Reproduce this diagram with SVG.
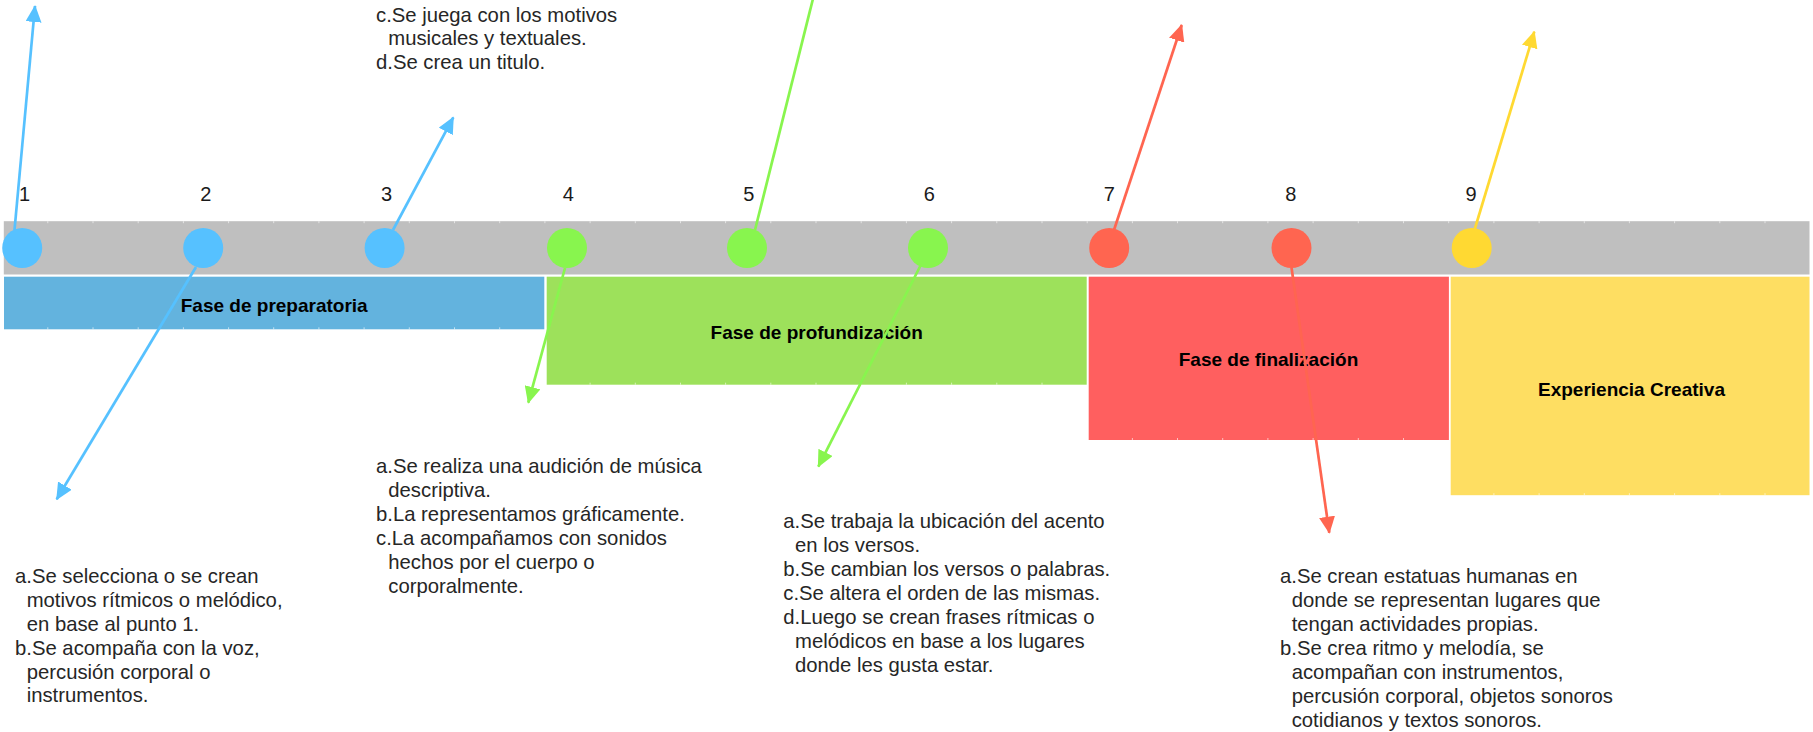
<svg xmlns="http://www.w3.org/2000/svg" width="1813" height="732" viewBox="0 0 1813 732">
<style>
.body{font-family:"Liberation Sans",Arial,sans-serif;font-size:20.3px;fill:#262626}
.num{font-family:"Liberation Sans",Arial,sans-serif;font-size:20px;fill:#1a1a1a;text-anchor:middle}
.lbl{font-family:"Liberation Sans",Arial,sans-serif;font-size:19px;font-weight:bold;fill:#000;text-anchor:middle}
.tick{stroke:#fff;stroke-width:1;fill:none;opacity:0.6}
.con{fill:none;stroke-width:2.7;stroke-linecap:butt}
.blue{stroke:#56C1FF}
.green{stroke:#88F54E}
.red{stroke:#FF6550}
.yellow{stroke:#FFD932}
</style>
<defs>
<marker id="ah-blue" markerUnits="userSpaceOnUse" markerWidth="17" markerHeight="16" viewBox="0 0 17 16" refX="16" refY="8" orient="auto"><path d="M0 0L17 8L0 16z" fill="#56C1FF"/></marker>
<marker id="ah-green" markerUnits="userSpaceOnUse" markerWidth="17" markerHeight="16" viewBox="0 0 17 16" refX="16" refY="8" orient="auto"><path d="M0 0L17 8L0 16z" fill="#88F54E"/></marker>
<marker id="ah-red" markerUnits="userSpaceOnUse" markerWidth="17" markerHeight="16" viewBox="0 0 17 16" refX="16" refY="8" orient="auto"><path d="M0 0L17 8L0 16z" fill="#FF6550"/></marker>
<marker id="ah-yellow" markerUnits="userSpaceOnUse" markerWidth="17" markerHeight="16" viewBox="0 0 17 16" refX="16" refY="8" orient="auto"><path d="M0 0L17 8L0 16z" fill="#FFD932"/></marker>
</defs>
<rect width="1813" height="732" fill="#fff"/>

<g id="timeline-bar">
<rect x="3.8" y="221.2" width="1805.7" height="53.3" fill="#BFBFBF"/>
<path class="tick" d="M47.8 221.2v2M93 221.2v2M138.2 221.2v2M183.4 221.2v2M228.6 221.2v2M273.7 221.2v2M318.9 221.2v2M364.1 221.2v2M409.3 221.2v2M454.5 221.2v2M499.7 221.2v2M544.9 221.2v2M590.1 221.2v2M635.3 221.2v2M680.5 221.2v2M725.6 221.2v2M770.8 221.2v2M816 221.2v2M861.2 221.2v2M906.4 221.2v2M951.6 221.2v2M996.8 221.2v2M1042 221.2v2M1087.2 221.2v2M1132.4 221.2v2M1177.5 221.2v2M1222.7 221.2v2M1267.9 221.2v2M1313.1 221.2v2M1358.3 221.2v2M1403.5 221.2v2M1448.7 221.2v2M1493.9 221.2v2M1539.1 221.2v2M1584.3 221.2v2M1629.4 221.2v2M1674.6 221.2v2M1719.8 221.2v2M1765 221.2v2"/>
</g>

<g id="phase-preparatoria">
<rect x="4" y="276.7" width="540.3" height="52.6" fill="#63B3DE"/>
<path class="tick" d="M47.8 327.3v2M93 327.3v2M138.2 327.3v2M183.4 327.3v2M228.6 327.3v2M273.7 327.3v2M318.9 327.3v2M364.1 327.3v2M409.3 327.3v2M454.5 327.3v2M499.7 327.3v2"/>
<text class="lbl" x="274.2" y="312.3">Fase de preparatoria</text>
</g>

<g id="phase-profundizacion">
<rect x="546.7" y="276.7" width="540" height="108" fill="#9DE15B"/>
<path class="tick" d="M590.1 382.7v2M635.3 382.7v2M680.5 382.7v2M725.6 382.7v2M770.8 382.7v2M816 382.7v2M861.2 382.7v2M906.4 382.7v2M951.6 382.7v2M996.8 382.7v2M1042 382.7v2"/>
<text class="lbl" x="816.7" y="339">Fase de profundización</text>
</g>

<g id="phase-finalizacion">
<rect x="1088.7" y="276.7" width="360.2" height="163.3" fill="#FF5F5F"/>
<path class="tick" d="M1132.4 438v2M1177.5 438v2M1222.7 438v2M1267.9 438v2M1313.1 438v2M1358.3 438v2M1403.5 438v2"/>
<text class="lbl" x="1268.5" y="366">Fase de finalización</text>
</g>

<g id="phase-experiencia">
<rect x="1450.7" y="276.7" width="358.8" height="218.5" fill="#FEDE62"/>
<path class="tick" d="M1493.9 493.2v2M1539.1 493.2v2M1584.3 493.2v2M1629.4 493.2v2M1674.6 493.2v2M1719.8 493.2v2M1765 493.2v2"/>
<text class="lbl" x="1631.5" y="395.7">Experiencia Creativa</text>
</g>

<g id="text-3">
<text class="body" x="376" y="21.7">c.Se juega con los motivos</text>
<text class="body" x="388.3" y="45.1">musicales y textuales.</text>
<text class="body" x="376" y="68.5">d.Se crea un titulo.</text>
</g>

<g id="text-2">
<text class="body" x="15" y="583.3">a.Se selecciona o se crean</text>
<text class="body" x="26.7" y="607.1">motivos rítmicos o melódico,</text>
<text class="body" x="26.7" y="630.9">en base al punto 1.</text>
<text class="body" x="15" y="654.7">b.Se acompaña con la voz,</text>
<text class="body" x="26.7" y="678.5">percusión corporal o</text>
<text class="body" x="26.7" y="702.3">instrumentos.</text>
</g>

<g id="text-4">
<text class="body" x="376" y="472.7">a.Se realiza una audición de música</text>
<text class="body" x="388.3" y="496.7">descriptiva.</text>
<text class="body" x="376" y="520.7">b.La representamos gráficamente.</text>
<text class="body" x="376" y="544.7">c.La acompañamos con sonidos</text>
<text class="body" x="388.3" y="568.7">hechos por el cuerpo o</text>
<text class="body" x="388.3" y="592.7">corporalmente.</text>
</g>

<g id="text-6">
<text class="body" x="783.3" y="527.7">a.Se trabaja la ubicación del acento</text>
<text class="body" x="795" y="551.7">en los versos.</text>
<text class="body" x="783.3" y="575.7">b.Se cambian los versos o palabras.</text>
<text class="body" x="783.3" y="599.7">c.Se altera el orden de las mismas.</text>
<text class="body" x="783.3" y="623.7">d.Luego se crean frases rítmicas o</text>
<text class="body" x="795" y="647.7">melódicos en base a los lugares</text>
<text class="body" x="795" y="671.7">donde les gusta estar.</text>
</g>

<g id="text-8">
<text class="body" x="1280" y="583.3">a.Se crean estatuas humanas en</text>
<text class="body" x="1291.7" y="607.3">donde se representan lugares que</text>
<text class="body" x="1291.7" y="631.3">tengan actividades propias.</text>
<text class="body" x="1280" y="655.3">b.Se crea ritmo y melodía, se</text>
<text class="body" x="1291.7" y="679.3">acompañan con instrumentos,</text>
<text class="body" x="1291.7" y="703.3">percusión corporal, objetos sonoros</text>
<text class="body" x="1291.7" y="727.3">cotidianos y textos sonoros.</text>
</g>

<g id="connectors">
<line class="con blue" x1="14.5" y1="230" x2="35" y2="6" marker-end="url(#ah-blue)"/>
<line class="con blue" x1="196" y1="267" x2="56.7" y2="499.3" marker-end="url(#ah-blue)"/>
<line class="con blue" x1="393" y1="230" x2="453.3" y2="117.3" marker-end="url(#ah-blue)"/>
<line class="con green" x1="565" y1="268" x2="528.3" y2="402.7" marker-end="url(#ah-green)"/>
<line class="con green" x1="755" y1="230" x2="817.7" y2="-20" marker-end="url(#ah-green)"/>
<line class="con green" x1="920.3" y1="266" x2="818.3" y2="466.7" marker-end="url(#ah-green)"/>
<line class="con red" x1="1114" y1="230" x2="1181.7" y2="25" marker-end="url(#ah-red)"/>
<line class="con red" x1="1291.5" y1="267.5" x2="1329.3" y2="532.7" marker-end="url(#ah-red)"/>
<line class="con yellow" x1="1474.8" y1="229" x2="1534.3" y2="31.7" marker-end="url(#ah-yellow)"/>
</g>

<g id="step-1"><circle cx="22.2" cy="248" r="20" fill="#56C1FF"/><text class="num" x="24.5" y="201">1</text></g>
<g id="step-2"><circle cx="203.2" cy="248" r="20" fill="#56C1FF"/><text class="num" x="205.9" y="201">2</text></g>
<g id="step-3"><circle cx="384.6" cy="248" r="20" fill="#56C1FF"/><text class="num" x="386.5" y="201">3</text></g>
<g id="step-4"><circle cx="567" cy="248" r="20" fill="#88F54E"/><text class="num" x="568.3" y="201">4</text></g>
<g id="step-5"><circle cx="747" cy="248" r="20" fill="#88F54E"/><text class="num" x="748.7" y="201">5</text></g>
<g id="step-6"><circle cx="928" cy="248" r="20" fill="#88F54E"/><text class="num" x="929.3" y="201">6</text></g>
<g id="step-7"><circle cx="1109.2" cy="248" r="20" fill="#FF6550"/><text class="num" x="1109.3" y="201">7</text></g>
<g id="step-8"><circle cx="1291.5" cy="248" r="20" fill="#FF6550"/><text class="num" x="1290.7" y="201">8</text></g>
<g id="step-9"><circle cx="1471.7" cy="248" r="20" fill="#FFD932"/><text class="num" x="1471" y="201">9</text></g>
</svg>
